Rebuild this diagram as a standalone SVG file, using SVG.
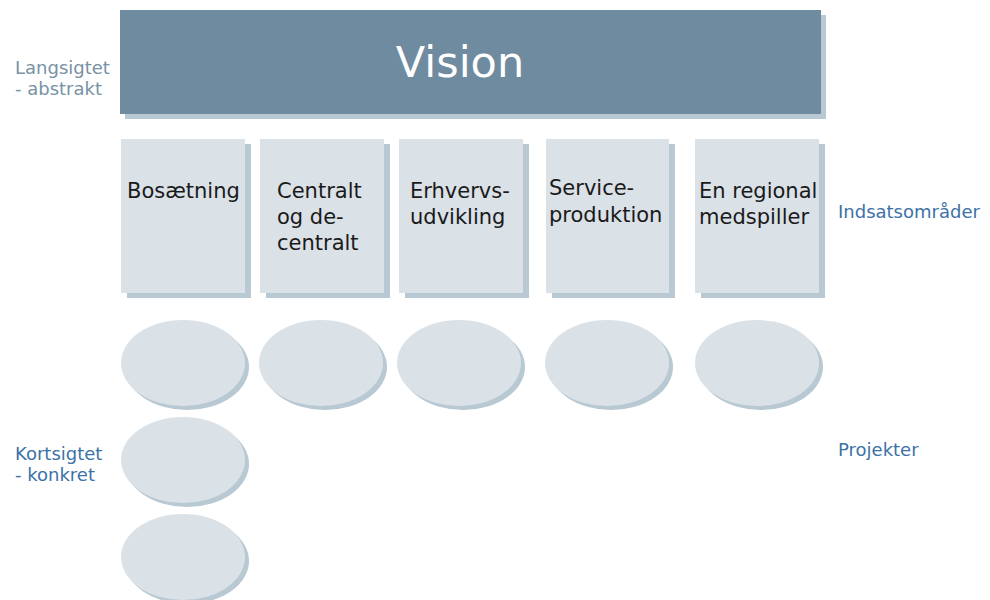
<svg xmlns="http://www.w3.org/2000/svg" width="990" height="600" viewBox="0 0 990 600">
<style>
.shadow{fill:#B8C9D3}
.box{fill:#DAE1E7}
.lbl{font-family:"DejaVu Sans","Verdana",sans-serif;font-size:21px;fill:#1a1a1a}
.side{font-family:"DejaVu Sans","Verdana",sans-serif;font-size:18px}
</style>
<rect width="990" height="600" fill="#ffffff"/>
<g id="vision">
<rect class="shadow" x="125" y="15" width="701" height="104"/>
<rect x="120" y="10" width="701" height="104" fill="#6F8BA0"/>
<text x="460" y="77" text-anchor="middle" font-family="DejaVu Sans, Verdana, sans-serif" font-size="43" fill="#ffffff">Vision</text>
</g>
<g id="side-labels" class="side">
<text x="15" y="74" fill="#7892A6">Langsigtet</text>
<text x="15" y="95" fill="#7892A6">- abstrakt</text>
<text x="15" y="460" fill="#3D72A6">Kortsigtet</text>
<text x="15" y="481" fill="#3D72A6">- konkret</text>
<text x="838" y="218" fill="#3D72A6">Indsatsområder</text>
<text x="838" y="456" fill="#3D72A6">Projekter</text>
</g>
<g id="area1">
<rect class="shadow" x="127" y="144" width="124" height="154"/>
<rect class="box" x="121" y="139" width="124" height="154"/>
<text class="lbl" x="127" y="198">Bosætning</text>
</g>
<g id="area2">
<rect class="shadow" x="266" y="144" width="124" height="154"/>
<rect class="box" x="260" y="139" width="124" height="154"/>
<text class="lbl" x="277" y="198">Centralt</text>
<text class="lbl" x="277" y="224">og de-</text>
<text class="lbl" x="277" y="250">centralt</text>
</g>
<g id="area3">
<rect class="shadow" x="405" y="144" width="124" height="154"/>
<rect class="box" x="399" y="139" width="124" height="154"/>
<text class="lbl" x="410" y="198">Erhvervs-</text>
<text class="lbl" x="410" y="224">udvikling</text>
</g>
<g id="area4">
<rect class="shadow" x="552" y="144" width="123" height="154"/>
<rect class="box" x="546" y="139" width="123" height="154"/>
<text class="lbl" x="549" y="195">Service-</text>
<text class="lbl" x="549" y="222">produktion</text>
</g>
<g id="area5">
<rect class="shadow" x="701" y="144" width="124" height="154"/>
<rect class="box" x="695" y="139" width="124" height="154"/>
<text class="lbl" x="699" y="198">En regional</text>
<text class="lbl" x="699" y="224">medspiller</text>
</g>
<g id="project1"><ellipse class="shadow" cx="187" cy="367" rx="62" ry="43"/><ellipse class="box" cx="183" cy="363" rx="62" ry="43"/></g>
<g id="project2"><ellipse class="shadow" cx="325" cy="367" rx="62" ry="43"/><ellipse class="box" cx="321" cy="363" rx="62" ry="43"/></g>
<g id="project3"><ellipse class="shadow" cx="463" cy="367" rx="62" ry="43"/><ellipse class="box" cx="459" cy="363" rx="62" ry="43"/></g>
<g id="project4"><ellipse class="shadow" cx="611" cy="367" rx="62" ry="43"/><ellipse class="box" cx="607" cy="363" rx="62" ry="43"/></g>
<g id="project5"><ellipse class="shadow" cx="761" cy="367" rx="62" ry="43"/><ellipse class="box" cx="757" cy="363" rx="62" ry="43"/></g>
<g id="project6"><ellipse class="shadow" cx="187" cy="464" rx="62" ry="43"/><ellipse class="box" cx="183" cy="460" rx="62" ry="43"/></g>
<g id="project7"><ellipse class="shadow" cx="187" cy="561" rx="62" ry="43"/><ellipse class="box" cx="183" cy="557" rx="62" ry="43"/></g>
</svg>
